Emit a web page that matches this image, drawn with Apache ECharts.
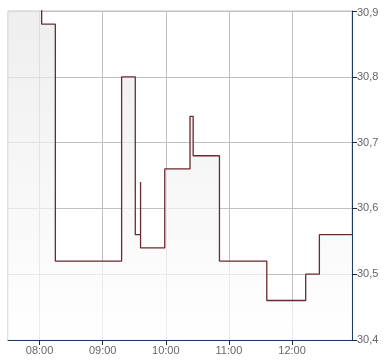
<!DOCTYPE html>
<html>
<head>
<meta charset="utf-8">
<script src="https://cdn.jsdelivr.net/npm/echarts@6/dist/echarts.min.js"></script>
<style>html,body{margin:0;padding:0;background:#fff}#c{width:390px;height:364px}</style>
</head>
<body>
<div id="c"></div>
<script>
// Data (time of change, price from that time on)
const times = ['07:30','08:02','08:15','09:18','09:31','09:36','09:36','09:59','10:23','10:26','10:51','11:36','12:13','12:26','12:57'];
const prices = [30.92,30.88,30.52,30.80,30.56,30.64,30.54,30.66,30.74,30.68,30.52,30.46,30.50,30.56,30.56];
const xTickLabels = ['08:00','09:00','10:00','11:00','12:00'];
const yTicks = [30.4,30.5,30.6,30.7,30.8,30.9];
const xStart = '07:30', xEnd = '12:57';

const toMin = s => { const p = s.split(':'); return (+p[0]) * 60 + (+p[1]); };
const fmtTime = v => { const h = Math.floor(v / 60), m = Math.round(v % 60); return String(h).padStart(2,'0') + ':' + String(m).padStart(2,'0'); };
const xTickVals = xTickLabels.map(toMin);
const seriesData = times.map((t, i) => [toMin(t), prices[i]]);
const yMax = yTicks[yTicks.length - 1];

const chart = echarts.init(document.getElementById('c'));
const font = { fontFamily: '"Liberation Sans", Arial, sans-serif', fontSize: 11, color: '#666666' };
chart.setOption({
  animation: false,
  backgroundColor: '#ffffff',
  grid: { left: 8, right: 38, top: 11, bottom: 24, show: true, borderColor: '#c0c0c0', borderWidth: 1, backgroundColor: 'transparent' },
  xAxis: {
    type: 'value',
    min: toMin(xStart), max: toMin(xEnd),
    axisLine: { show: true, lineStyle: { color: '#1c3a66', width: 1 } },
    axisTick: { show: true, length: 5, customValues: xTickVals, lineStyle: { color: '#1c2b3a' } },
    axisLabel: { ...font, customValues: xTickVals, formatter: v => fmtTime(v), margin: 5, hideOverlap: false },
    splitLine: { show: true, lineStyle: { color: '#c0c0c0', width: 1 } }
  },
  yAxis: {
    type: 'value', position: 'right',
    min: yTicks[0], max: yMax, interval: 0.1,
    axisLine: { show: true, lineStyle: { color: '#1c3a66', width: 1 } },
    axisTick: { show: true, length: 5, lineStyle: { color: '#1c2b3a' } },
    axisLabel: {
      ...font, margin: 5,
      formatter: v => {
        const s = v.toFixed(1).replace('.', ',');
        return Math.abs(v - yMax) < 1e-9 ? '{top|' + s + '}' : s;
      },
      rich: { top: { ...font, padding: [4, 0, 0, 0] } }
    },
    splitLine: { show: true, lineStyle: { color: '#c0c0c0', width: 1 } }
  },
  series: [{
    type: 'line',
    step: 'end',
    data: seriesData,
    symbol: 'none',
    clip: true,
    lineStyle: { color: '#6b2a2e', width: 1.3 },
    areaStyle: {
      origin: 'start',
      color: { type: 'linear', x: 0, y: 0, x2: 0, y2: 1, colorStops: [
        { offset: 0, color: '#e6e6e6' }, { offset: 1, color: '#ffffff' }
      ] }
    }
  }]
});
</script>
</body>
</html>
